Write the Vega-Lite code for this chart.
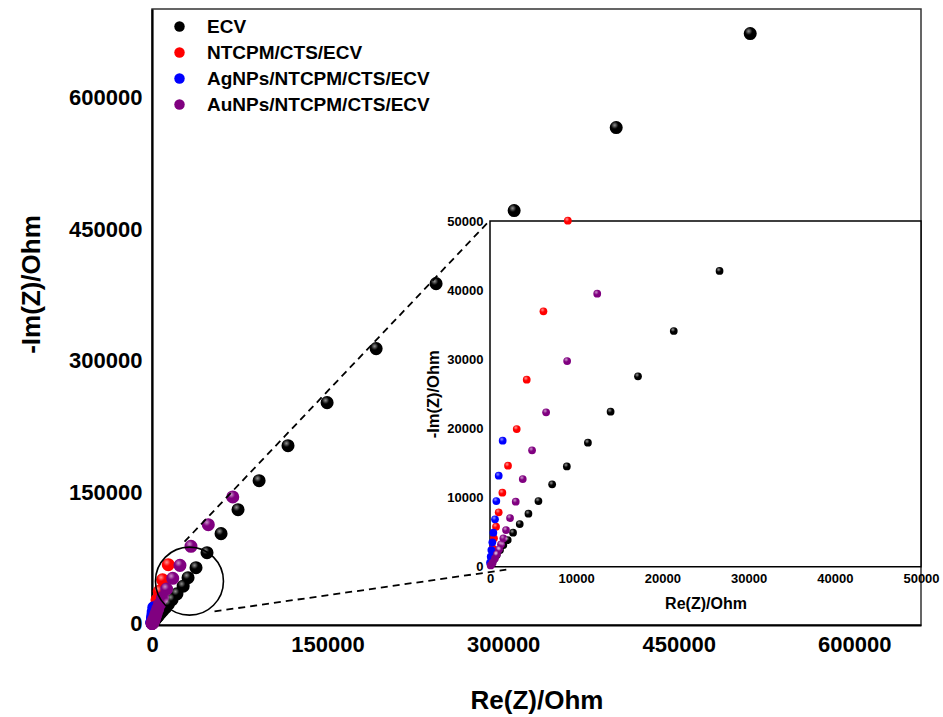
{
  "$schema": "https://vega.github.io/schema/vega-lite/v6.json",
  "autosize": "none",
  "width": 769,
  "height": 616,
  "padding": {"left": 152, "top": 9, "right": 22, "bottom": 92},
  "background": "white",
  "config": {
    "view": {"stroke": "#333333", "strokeWidth": 1.5},
    "axis": {"grid": false, "ticks": false, "domainColor": "black", "labelColor": "black", "titleColor": "black", "labelFont": "Liberation Sans", "titleFont": "Liberation Sans", "labelFontWeight": "bold", "titleFontWeight": "bold", "labelOverlap": false, "labelFlush": false, "labelBound": false}
  },
  "datasets": {
    "pts": [
      {"s": "ECV", "x": 511100, "y": 673000},
      {"s": "ECV", "x": 396600, "y": 565800},
      {"s": "ECV", "x": 309400, "y": 471100},
      {"s": "ECV", "x": 242700, "y": 387800},
      {"s": "ECV", "x": 191500, "y": 313700},
      {"s": "ECV", "x": 149600, "y": 252100},
      {"s": "ECV", "x": 116200, "y": 203000},
      {"s": "ECV", "x": 91500, "y": 163100},
      {"s": "ECV", "x": 73500, "y": 130000},
      {"s": "ECV", "x": 59000, "y": 102700},
      {"s": "ECV", "x": 47000, "y": 81000},
      {"s": "ECV", "x": 37600, "y": 63900},
      {"s": "ECV", "x": 30800, "y": 52500},
      {"s": "ECV", "x": 26630, "y": 42770},
      {"s": "ECV", "x": 21320, "y": 34090},
      {"s": "ECV", "x": 17170, "y": 27530},
      {"s": "ECV", "x": 13990, "y": 22420},
      {"s": "ECV", "x": 11360, "y": 17940},
      {"s": "ECV", "x": 8915, "y": 14510},
      {"s": "ECV", "x": 7210, "y": 11910},
      {"s": "ECV", "x": 5620, "y": 9500},
      {"s": "ECV", "x": 4460, "y": 7670},
      {"s": "ECV", "x": 3450, "y": 6170},
      {"s": "ECV", "x": 2675, "y": 4920},
      {"s": "ECV", "x": 2055, "y": 3860},
      {"s": "ECV", "x": 1550, "y": 3130},
      {"s": "ECV", "x": 1160, "y": 2410},
      {"s": "ECV", "x": 775, "y": 1690},
      {"s": "ECV", "x": 465, "y": 1060},
      {"s": "ECV", "x": 195, "y": 480},
      {"s": "NTCPM/CTS/ECV", "x": 13900, "y": 67300},
      {"s": "NTCPM/CTS/ECV", "x": 9030, "y": 50050},
      {"s": "NTCPM/CTS/ECV", "x": 6200, "y": 36940},
      {"s": "NTCPM/CTS/ECV", "x": 4260, "y": 27050},
      {"s": "NTCPM/CTS/ECV", "x": 3100, "y": 19910},
      {"s": "NTCPM/CTS/ECV", "x": 2090, "y": 14610},
      {"s": "NTCPM/CTS/ECV", "x": 1435, "y": 10700},
      {"s": "NTCPM/CTS/ECV", "x": 1010, "y": 7860},
      {"s": "NTCPM/CTS/ECV", "x": 700, "y": 5790},
      {"s": "NTCPM/CTS/ECV", "x": 465, "y": 4100},
      {"s": "NTCPM/CTS/ECV", "x": 310, "y": 2650},
      {"s": "NTCPM/CTS/ECV", "x": 195, "y": 1450},
      {"s": "NTCPM/CTS/ECV", "x": 80, "y": 580},
      {"s": "AgNPs/NTCPM/CTS/ECV", "x": 1470, "y": 18230},
      {"s": "AgNPs/NTCPM/CTS/ECV", "x": 1010, "y": 13160},
      {"s": "AgNPs/NTCPM/CTS/ECV", "x": 735, "y": 9500},
      {"s": "AgNPs/NTCPM/CTS/ECV", "x": 580, "y": 6850},
      {"s": "AgNPs/NTCPM/CTS/ECV", "x": 390, "y": 4920},
      {"s": "AgNPs/NTCPM/CTS/ECV", "x": 270, "y": 3520},
      {"s": "AgNPs/NTCPM/CTS/ECV", "x": 155, "y": 2410},
      {"s": "AgNPs/NTCPM/CTS/ECV", "x": 80, "y": 1450},
      {"s": "AgNPs/NTCPM/CTS/ECV", "x": 0, "y": 580},
      {"s": "AuNPs/NTCPM/CTS/ECV", "x": 69000, "y": 144500},
      {"s": "AuNPs/NTCPM/CTS/ECV", "x": 48100, "y": 112900},
      {"s": "AuNPs/NTCPM/CTS/ECV", "x": 33300, "y": 88200},
      {"s": "AuNPs/NTCPM/CTS/ECV", "x": 23900, "y": 66500},
      {"s": "AuNPs/NTCPM/CTS/ECV", "x": 17700, "y": 51700},
      {"s": "AuNPs/NTCPM/CTS/ECV", "x": 12440, "y": 39490},
      {"s": "AuNPs/NTCPM/CTS/ECV", "x": 8950, "y": 29750},
      {"s": "AuNPs/NTCPM/CTS/ECV", "x": 6510, "y": 22330},
      {"s": "AuNPs/NTCPM/CTS/ECV", "x": 4880, "y": 16830},
      {"s": "AuNPs/NTCPM/CTS/ECV", "x": 3800, "y": 12680},
      {"s": "AuNPs/NTCPM/CTS/ECV", "x": 2985, "y": 9400},
      {"s": "AuNPs/NTCPM/CTS/ECV", "x": 2325, "y": 7040},
      {"s": "AuNPs/NTCPM/CTS/ECV", "x": 1860, "y": 5300},
      {"s": "AuNPs/NTCPM/CTS/ECV", "x": 1550, "y": 4100},
      {"s": "AuNPs/NTCPM/CTS/ECV", "x": 1280, "y": 3230},
      {"s": "AuNPs/NTCPM/CTS/ECV", "x": 1050, "y": 2510},
      {"s": "AuNPs/NTCPM/CTS/ECV", "x": 815, "y": 1830},
      {"s": "AuNPs/NTCPM/CTS/ECV", "x": 580, "y": 1205},
      {"s": "AuNPs/NTCPM/CTS/ECV", "x": 310, "y": 580},
      {"s": "AuNPs/NTCPM/CTS/ECV", "x": 80, "y": 190}
    ]
  },
  "resolve": {"scale": {"x": "independent", "y": "independent"}},
  "layer": [
    {
      "layer": [
        {
          "data": {"name": "pts"},
          "mark": {"type": "point", "filled": true, "opacity": 1, "size": 170, "strokeWidth": 0},
          "encoding": {
            "x": {"field": "x", "type": "quantitative",
              "scale": {"domain": [0, 657000], "nice": false, "zero": false},
              "axis": {"values": [0, 150000, 300000, 450000, 600000], "format": "d", "title": "Re(Z)/Ohm", "labelFontSize": 22, "labelPadding": 9, "titleFontSize": 26, "titleY": 83, "titleBaseline": "alphabetic", "domainWidth": 2.2}},
            "y": {"field": "y", "type": "quantitative",
              "scale": {"domain": [-1500, 701000], "nice": false, "zero": false},
              "axis": {"values": [0, 150000, 300000, 450000, 600000], "format": "d", "title": "-Im(Z)/Ohm", "labelFontSize": 22, "labelPadding": 10, "titleFontSize": 26, "titleX": -121, "titleY": 275, "titleBaseline": "middle", "domainWidth": 2.2}},
            "color": {"field": "s", "type": "nominal",
              "scale": {"domain": ["ECV", "NTCPM/CTS/ECV", "AgNPs/NTCPM/CTS/ECV", "AuNPs/NTCPM/CTS/ECV"], "range": ["#000000", "#ff0000", "#0000ff", "#800080"]},
              "legend": {"orient": "none", "legendX": 18, "legendY": 8, "title": null, "padding": 0, "labelFont": "Liberation Sans", "labelFontWeight": "bold", "labelFontSize": 19, "labelColor": "black", "labelLimit": 0, "symbolType": "circle", "symbolSize": 110, "symbolStrokeWidth": 0, "symbolOpacity": 1, "labelOffset": 18, "rowPadding": 6}}
          }
        },
        {
          "data": {"name": "pts"},
          "transform": [{"filter": "datum.x > 12000 || datum.y > 30000"}],
          "mark": {"type": "point", "filled": true, "opacity": 1, "size": 170, "strokeWidth": 0,
            "fill": {"gradient": "radial", "x1": 0.38, "y1": 0.32, "r1": 0, "x2": 0.38, "y2": 0.32, "r2": 0.28,
              "stops": [{"offset": 0, "color": "rgba(255,255,255,0.6)"}, {"offset": 1, "color": "rgba(255,255,255,0)"}]}},
          "encoding": {
            "x": {"field": "x", "type": "quantitative"},
            "y": {"field": "y", "type": "quantitative"}
          }
        },
        {
          "data": {"values": [{"x": 32000, "y": 48500}]},
          "mark": {"type": "point", "shape": "circle", "filled": false, "size": 4624, "stroke": "black", "strokeWidth": 1.6, "opacity": 1},
          "encoding": {
            "x": {"field": "x", "type": "quantitative"},
            "y": {"field": "y", "type": "quantitative"}
          }
        },
        {
          "data": {"values": [{"x": 27800, "y": 93500, "x2": 288500, "y2": 459700}, {"x": 53400, "y": 14000, "x2": 302700, "y2": 61600}]},
          "mark": {"type": "rule", "color": "black", "strokeWidth": 1.8, "strokeDash": [7, 5]},
          "encoding": {
            "x": {"field": "x", "type": "quantitative"},
            "y": {"field": "y", "type": "quantitative"},
            "x2": {"field": "x2"},
            "y2": {"field": "y2"}
          }
        }
      ]
    },
    {
      "layer": [
        {
          "data": {"values": [{"x": 0, "y": 0, "x2": 50000, "y2": 50000}]},
          "mark": {"type": "rect", "fill": "white", "stroke": "black", "strokeWidth": 1.5},
          "encoding": {
            "x": {"field": "x", "type": "quantitative",
              "scale": {"domain": [0, 50000], "range": [338, 769], "nice": false, "zero": false},
              "axis": {"orient": "bottom", "offset": -58.3, "domain": false, "values": [0, 10000, 20000, 30000, 40000, 50000], "format": "d", "title": "Re(Z)/Ohm", "labelFontSize": 13, "labelPadding": 6, "titleFontSize": 16, "titleY": 42, "titleBaseline": "alphabetic"}},
            "x2": {"field": "x2"},
            "y": {"field": "y", "type": "quantitative",
              "scale": {"domain": [0, 50000], "range": [557.7, 212], "nice": false, "zero": false},
              "axis": {"orient": "left", "offset": -338, "domain": false, "values": [0, 10000, 20000, 30000, 40000, 50000], "format": "d", "title": "-Im(Z)/Ohm", "labelFontSize": 13, "labelPadding": 7, "titleFontSize": 16.5, "titleX": -57, "titleBaseline": "middle"}},
            "y2": {"field": "y2"}
          }
        },
        {
          "data": {"name": "pts"},
          "transform": [{"filter": "datum.x <= 50500 && datum.y <= 50500"}],
          "mark": {"type": "point", "filled": true, "opacity": 1, "size": 60, "strokeWidth": 0},
          "encoding": {
            "x": {"field": "x", "type": "quantitative"},
            "y": {"field": "y", "type": "quantitative"},
            "color": {"field": "s", "type": "nominal", "legend": null}
          }
        },
        {
          "data": {"name": "pts"},
          "transform": [{"filter": "datum.x <= 50500 && datum.y <= 50500 && (datum.x > 600 || datum.y > 6000)"}],
          "mark": {"type": "point", "filled": true, "opacity": 1, "size": 60, "strokeWidth": 0,
            "fill": {"gradient": "radial", "x1": 0.38, "y1": 0.32, "r1": 0, "x2": 0.38, "y2": 0.32, "r2": 0.3,
              "stops": [{"offset": 0, "color": "rgba(255,255,255,0.65)"}, {"offset": 1, "color": "rgba(255,255,255,0)"}]}},
          "encoding": {
            "x": {"field": "x", "type": "quantitative"},
            "y": {"field": "y", "type": "quantitative"}
          }
        }
      ]
    }
  ]
}
